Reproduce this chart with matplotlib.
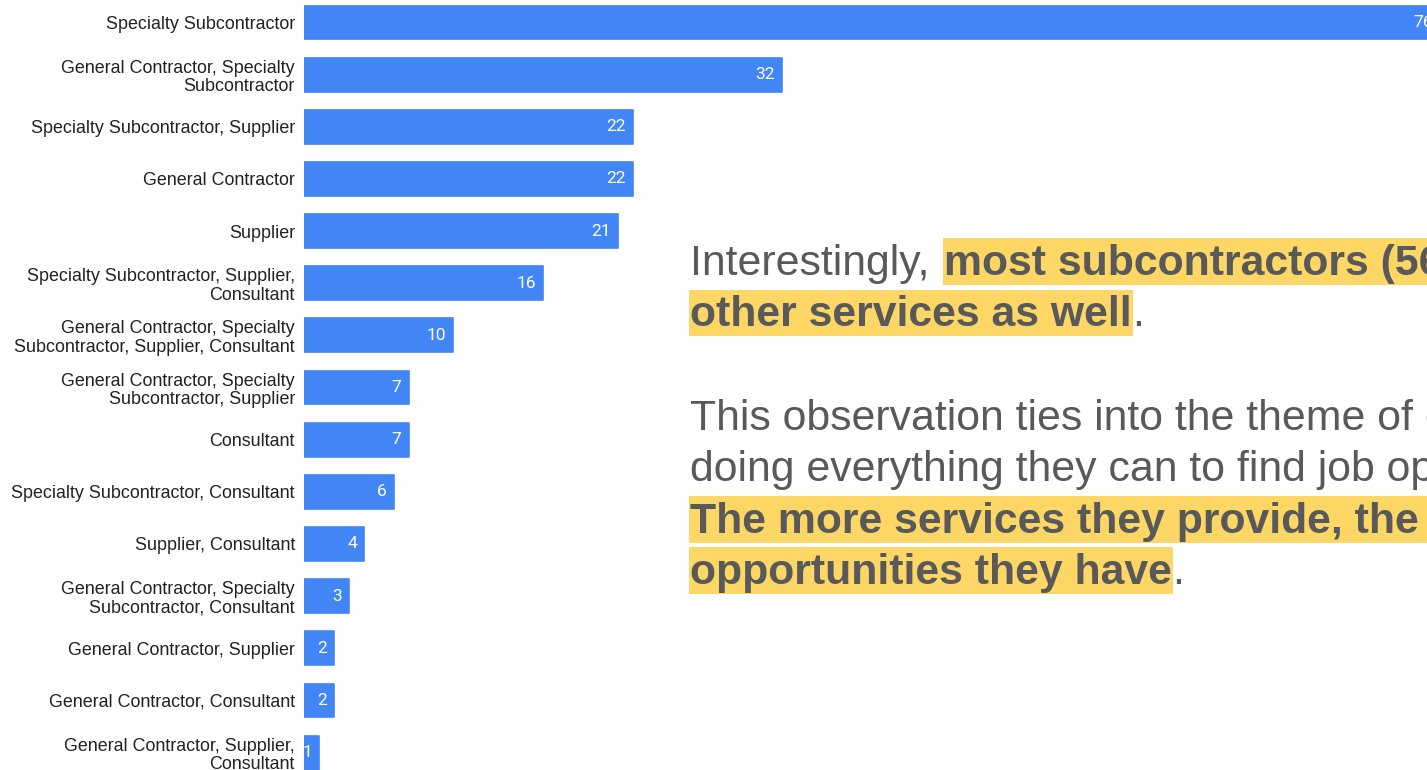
import numpy as np
import matplotlib.pyplot as plt
from matplotlib.patches import Rectangle

# services offered by respondents, number of respondents per combination
categories = [
    'Specialty Subcontractor',
    'General Contractor, Specialty\nSubcontractor',
    'Specialty Subcontractor, Supplier',
    'General Contractor',
    'Supplier',
    'Specialty Subcontractor, Supplier,\nConsultant',
    'General Contractor, Specialty\nSubcontractor, Supplier, Consultant',
    'General Contractor, Specialty\nSubcontractor, Supplier',
    'Consultant',
    'Specialty Subcontractor, Consultant',
    'Supplier, Consultant',
    'General Contractor, Specialty\nSubcontractor, Consultant',
    'General Contractor, Supplier',
    'General Contractor, Consultant',
    'General Contractor, Supplier,\nConsultant',
]
counts = [76, 32, 22, 22, 21, 16, 10, 7, 7, 6, 4, 3, 2, 2, 1]

# commentary: each line is a list of (text, bold, highlighted)
note_lines = [
    [('Interestingly,', False, False), ('most subcontractors (56%) provide', True, True)],
    [('other services as well', True, True), ('.', False, False)],
    None,
    [('This observation ties into the theme of contractors', False, False)],
    [('doing everything they can to find job opportunities.', False, False)],
    [('The more services they provide, the more', True, True)],
    [('opportunities they have', True, True), ('.', False, False)],
]

BLUE = '#4285f4'
GREY = '#595959'
YELLOW = '#fdd766'

W, H = 1427, 770
fig = plt.figure(figsize=(W / 100, H / 100), dpi=100)

# bar area geometry in pixels
x0 = 304
px_unit = 14.94
row = 52.15
first = 22.5
n = len(counts)
top_px = first - row / 2
ax = fig.add_axes([x0 / W, (H - top_px - n * row) / H, 80 * px_unit / W, n * row / H])

y = np.arange(n)
ax.barh(y, counts, height=0.65, color=BLUE, edgecolor=BLUE, linewidth=1.2,
        joinstyle='round')
ax.set_xlim(0, 80)
ax.set_ylim(n - 0.5, -0.5)
ax.set_yticks(y)
ax.set_yticklabels(categories, fontsize=12.9, family='Liberation Sans',
                   color='#222222', linespacing=1.1)
ax.tick_params(axis='y', length=0, pad=6.5)
ax.set_xticks([])
for s in ax.spines.values():
    s.set_visible(False)

for i, v in enumerate(counts):
    ax.annotate(str(v), xy=(v, i), xytext=(-7, 0), textcoords='offset pixels',
                ha='right', va='center', color='white', fontsize=12.5,
                family='Roboto', clip_on=False)

# commentary block on the right
fs = 30.8
em = fs * 100 / 72
space = 0.278 * em
pitch = 51.5
base0 = 275
left = 690
renderer = fig.canvas.get_renderer()

for k, line in enumerate(note_lines):
    if line is None:
        continue
    base = base0 + k * pitch
    x = left
    for j, (txt, bold, hl) in enumerate(line):
        t = fig.text(x / W, (H - base) / H, txt, fontsize=fs, color=GREY,
                     family='Liberation Sans',
                     weight='bold' if bold else 'normal',
                     ha='left', va='baseline', zorder=3)
        bb = t.get_window_extent(renderer)
        w = bb.width
        if hl:
            fig.patches.append(Rectangle(((x - 1) / W, (H - base - 10) / H),
                                         (w + 2) / W, 47 / H,
                                         transform=fig.transFigure,
                                         facecolor=YELLOW, edgecolor='none',
                                         zorder=1))
        x += w
        if j + 1 < len(line) and line[j + 1][0] not in ('.', ','):
            x += space + 3

fig.savefig('out.png', dpi=100)
